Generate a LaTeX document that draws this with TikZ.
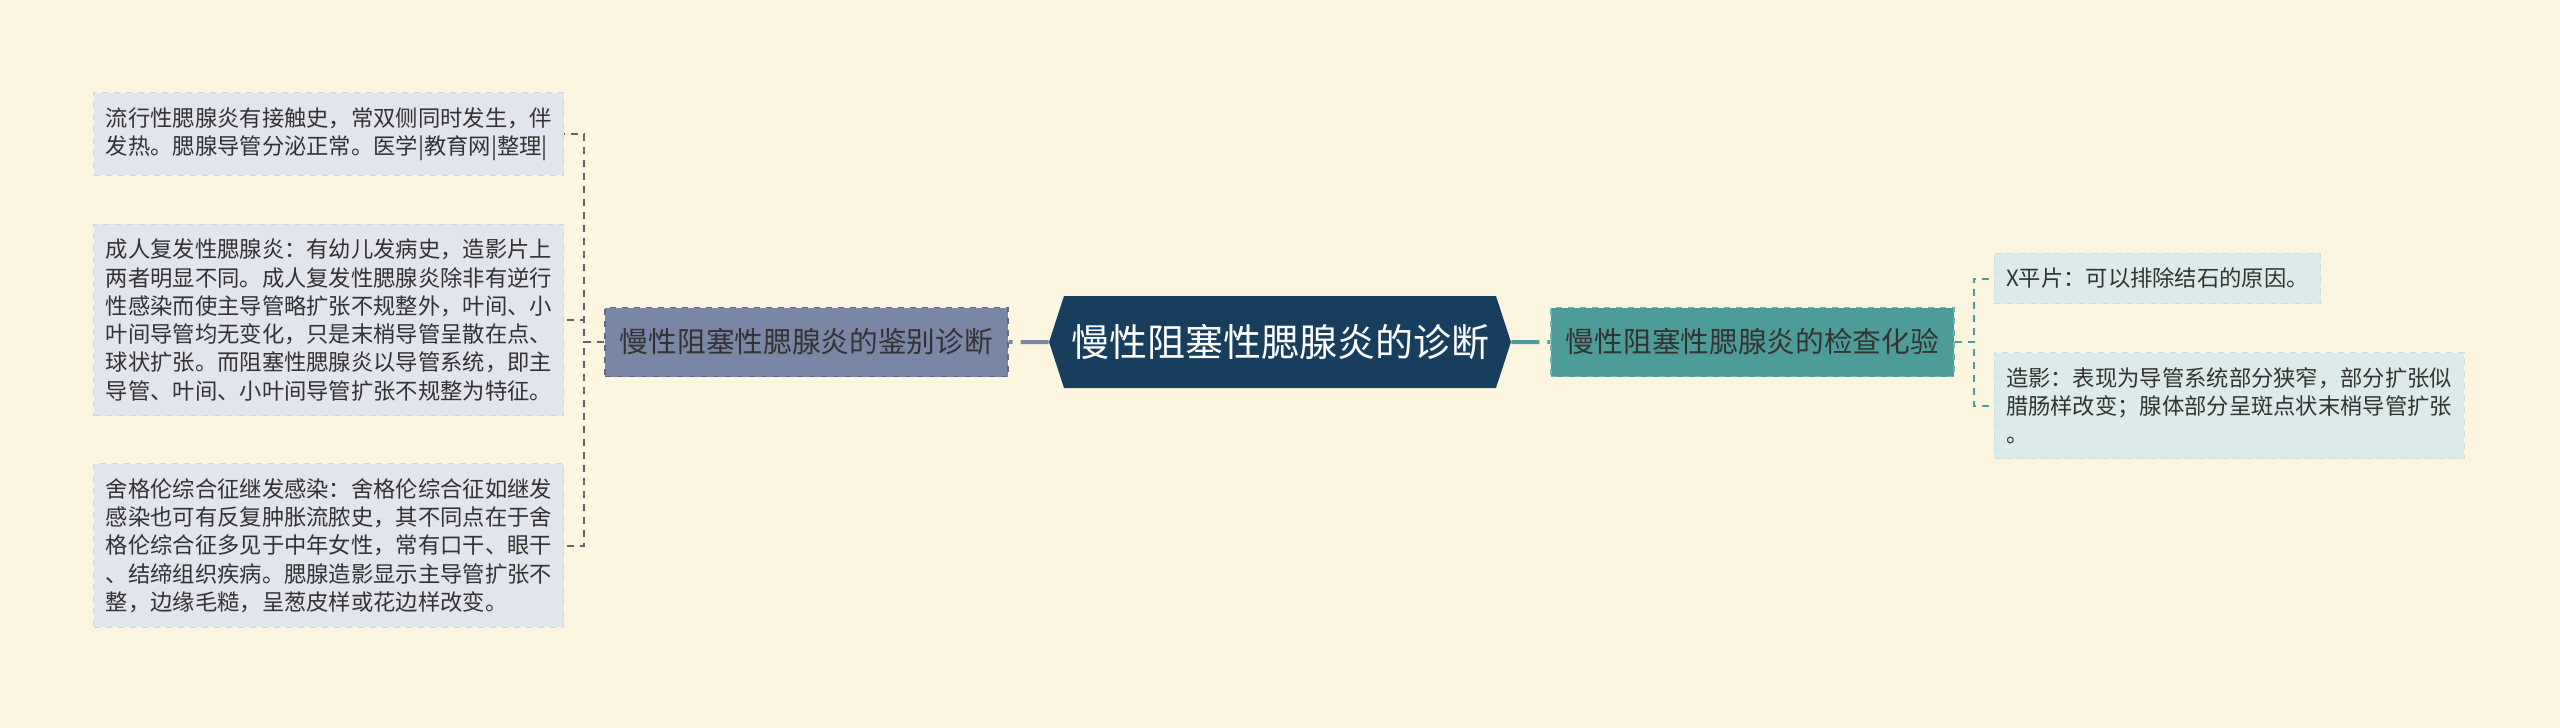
\documentclass[tikz,border=0pt]{standalone}
\usepackage{fontspec}
\setmainfont{Noto Sans CJK SC}
\usetikzlibrary{positioning, shapes.symbols}

\definecolor{bgcream}{HTML}{FCF6E1}
\definecolor{rootblue}{HTML}{183E5D}
\definecolor{slatefill}{HTML}{7A86A6}
\definecolor{slateline}{HTML}{5E6A88}
\definecolor{tealfill}{HTML}{4E9C9A}
\definecolor{tealline}{HTML}{72B3B0}
\definecolor{leafgrey}{HTML}{E3E5EE}
\definecolor{leafgreyline}{HTML}{D3D6E2}
\definecolor{leafteal}{HTML}{DCEBEA}
\definecolor{leaftealline}{HTML}{C8DFDE}
\definecolor{linkgrey}{HTML}{5F6470}
\definecolor{textdark}{HTML}{333333}

\begin{document}
\begin{tikzpicture}[
    node distance=20pt and 20pt,
    % --- MINDMAP STYLES ---
    root_node/.style={signal, signal to=west and east, signal pointer angle=144,
        fill=rootblue, text=white, inner xsep=3.5pt, minimum height=46pt,
        font=\fontsize{19pt}{23pt}\selectfont},
    branch_node/.style={draw, dashed, line width=0.6pt, text=textdark,
        minimum width=201.5pt, minimum height=34.5pt,
        font=\fontsize{14.35pt}{17pt}\selectfont},
    leaf_node/.style={draw, dashed, line width=0.5pt, text=textdark, align=left,
        inner xsep=6pt, inner ysep=7.3pt,
        font=\fontsize{11.15pt}{14.15pt}\selectfont},
    wide_leaf/.style={leaf_node, text width=223pt},
    main_link/.style={line width=2pt, dash pattern=on 14pt off 4pt},
    leaf_link/.style={line width=1pt, dash pattern=on 3.5pt off 3pt}
]
\path[use as bounding box, fill=bgcream] (0,0) rectangle (1280pt,-364pt);

% --- ROOT ---
\node (diag) [root_node] at (640pt,-171pt) {慢性阻塞性腮腺炎的诊断};

% --- BRANCHES ---
\node (ident) [branch_node, fill=slatefill, draw=slateline, left=of diag] {慢性阻塞性腮腺炎的鉴别诊断};
\node (exam) [branch_node, fill=tealfill, draw=tealline, right=19.5pt of diag] {慢性阻塞性腮腺炎的检查化验};

% --- LEFT LEAVES ---
\node (mumps) [wide_leaf, fill=leafgrey, draw=leafgreyline, left=of ident, yshift=11pt]
    {成人复发性腮腺炎：有幼儿发病史，造影片上\\两者明显不同。成人复发性腮腺炎除非有逆行\\性感染而使主导管略扩张不规整外，叶间、小\\叶间导管均无变化，只是末梢导管呈散在点、\\球状扩张。而阻塞性腮腺炎以导管系统，即主\\导管、叶间、小叶间导管扩张不规整为特征。};
\node (epid) [wide_leaf, fill=leafgrey, draw=leafgreyline, above=24pt of mumps]
    {流行性腮腺炎有接触史，常双侧同时发生，伴\\发热。腮腺导管分泌正常。医学|教育网|整理|};
\node (sjogren) [wide_leaf, fill=leafgrey, draw=leafgreyline, below=23.5pt of mumps]
    {舍格伦综合征继发感染：舍格伦综合征如继发\\感染也可有反复肿胀流脓史，其不同点在于舍\\格伦综合征多见于中年女性，常有口干、眼干\\、结缔组织疾病。腮腺造影显示主导管扩张不\\整，边缘毛糙，呈葱皮样或花边样改变。};

% --- RIGHT LEAVES ---
\node (xray) [leaf_node, fill=leafteal, draw=leaftealline, right=19.5pt of exam, yshift=31.75pt]
    {X平片：可以排除结石的原因。};
\node (sialo) [wide_leaf, fill=leafteal, draw=leaftealline, below=24pt of xray.south west, anchor=north west]
    {造影：表现为导管系统部分狭窄，部分扩张似\\腊肠样改变；腺体部分呈斑点状末梢导管扩张\\。};

% Links
\draw [main_link, slatefill] (diag) -- (ident);
\draw [main_link, tealfill] (diag) -- (exam);
\draw [leaf_link, linkgrey] (ident.west) -- ++(-10pt,0) |- (epid.east);
\draw [leaf_link, linkgrey] (ident.west) -- ++(-10pt,0) |- (mumps.east);
\draw [leaf_link, linkgrey] (ident.west) -- ++(-10pt,0) |- (sjogren.east);
\draw [leaf_link, tealfill] (exam.east) -- ++(9.5pt,0) |- (xray.west);
\draw [leaf_link, tealfill] (exam.east) -- ++(9.5pt,0) |- (sialo.west);

\end{tikzpicture}
\end{document}
